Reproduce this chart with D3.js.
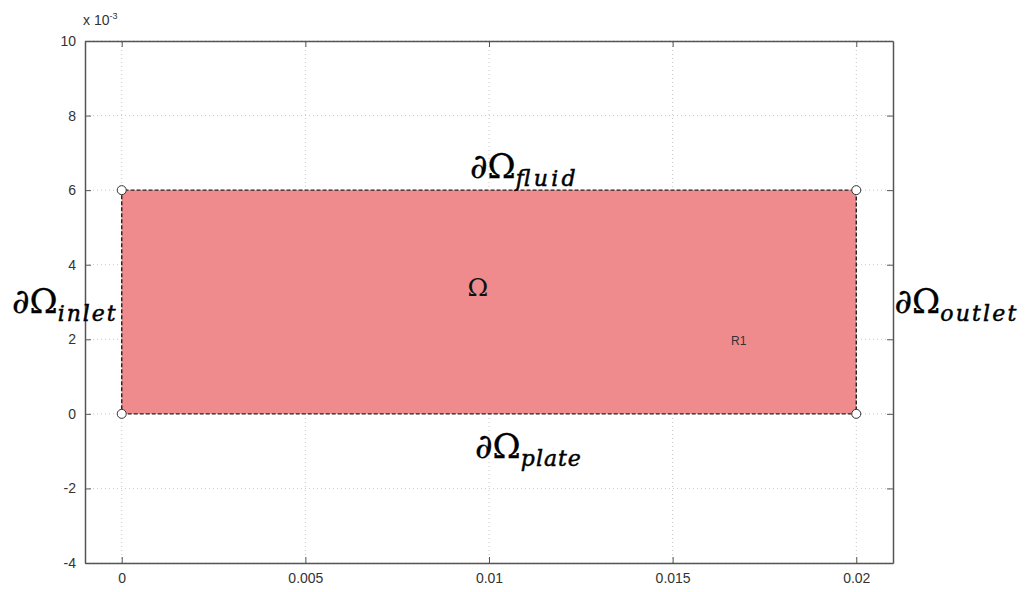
<!DOCTYPE html>
<html>
<head>
<meta charset="utf-8">
<script src="https://cdn.jsdelivr.net/npm/d3@7"></script>
<style>
  body { margin: 0; background: #fff; }
  text { font-family: "Liberation Sans", Arial, sans-serif; }
</style>
</head>
<body>
<div id="chart"></div>
<script>
// axis ticks (y values are in units of 1e-3)
const xTicks = [0, 0.005, 0.01, 0.015, 0.02];
const xTickLabels = ['0', '0.005', '0.01', '0.015', '0.02'];
const yTicks = [-4, -2, 0, 2, 4, 6, 8, 10];
const yTickLabels = ['-4', '-2', '0', '2', '4', '6', '8', '10'];
const xDomain = [-0.001, 0.021];
const yDomain = [-4, 10];

// the region R1 and its corner vertices
const regionX = [0, 0.02];
const regionY = [0, 6];
const corners = [[0, 0], [0.02, 0], [0.02, 6], [0, 6]];

// boundary labels: [x start, baseline y, main, subscript, subscript width px]
const boundaryLabels = [
  [0.00948, 6.33, '\u2202\u03A9', 'fluid', 60],
  [0.00962, -1.18, '\u2202\u03A9', 'plate', 60],
  [-0.00299, 2.71, '\u2202\u03A9', 'inlet', 58],
  [0.02104, 2.71, '\u2202\u03A9', 'outlet', 76]
];
const regionLabel = ['\u03A9', 0.0097, 3.15];
const regionName = ['R1', 0.0168, 1.85];

const W = 1026, H = 592;
const svg = d3.select('#chart').append('svg').attr('width', W).attr('height', H);

const x = d3.scaleLinear().domain(xDomain).range([85, 893]);
const y = d3.scaleLinear().domain(yDomain).range([563, 41]);

// grid
const grid = svg.append('g');
grid.selectAll('.gx').data(xTicks).enter().append('line')
  .attr('x1', d => x(d)).attr('x2', d => x(d))
  .attr('y1', y(yDomain[0])).attr('y2', y(yDomain[1]))
  .attr('stroke', '#c8c8c8').attr('stroke-dasharray', '1,3');
grid.selectAll('.gy').data(yTicks).enter().append('line')
  .attr('y1', d => y(d)).attr('y2', d => y(d))
  .attr('x1', x(xDomain[0])).attr('x2', x(xDomain[1]))
  .attr('stroke', '#c8c8c8').attr('stroke-dasharray', '1,3');

// region
svg.append('rect')
  .attr('x', x(regionX[0])).attr('y', y(regionY[1]))
  .attr('width', x(regionX[1]) - x(regionX[0]))
  .attr('height', y(regionY[0]) - y(regionY[1]))
  .attr('fill', '#f08b8d');
svg.append('path')
  .attr('d', d3.line().x(d => x(d[0])).y(d => y(d[1])).curve(d3.curveLinearClosed)(corners))
  .attr('fill', 'none').attr('stroke', '#222').attr('stroke-width', 1.4)
  .attr('stroke-dasharray', '4,2');
svg.selectAll('.corner').data(corners).enter().append('circle')
  .attr('cx', d => x(d[0])).attr('cy', d => y(d[1])).attr('r', 4.5)
  .attr('fill', '#fff').attr('stroke', '#333').attr('stroke-width', 1);

// axes (MATLAB style box with inward ticks)
const axB = svg.append('g').attr('transform', `translate(0,${y(yDomain[0])})`)
  .call(d3.axisBottom(x).tickValues(xTicks).tickFormat((d, i) => xTickLabels[i]).tickSizeInner(-6).tickSizeOuter(0).tickPadding(10));
const axT = svg.append('g').attr('transform', `translate(0,${y(yDomain[1])})`)
  .call(d3.axisTop(x).tickValues(xTicks).tickFormat('').tickSizeInner(-6).tickSizeOuter(0));
const axL = svg.append('g').attr('transform', `translate(${x(xDomain[0])},0)`)
  .call(d3.axisLeft(y).tickValues(yTicks).tickFormat((d, i) => yTickLabels[i]).tickSizeInner(-6).tickSizeOuter(0).tickPadding(9));
const axR = svg.append('g').attr('transform', `translate(${x(xDomain[1])},0)`)
  .call(d3.axisRight(y).tickValues(yTicks).tickFormat('').tickSizeInner(-6).tickSizeOuter(0));
[axB, axT, axL, axR].forEach(a => {
  a.select('.domain').attr('stroke', '#555').attr('stroke-width', 1.5);
  a.selectAll('.tick line').attr('stroke', '#555');
  a.selectAll('.tick text').attr('fill', '#333').attr('font-size', 14);
});

// exponent label
const ex = svg.append('text').attr('x', 83).attr('y', 25).attr('fill', '#333').attr('font-size', 14);
ex.append('tspan').text('x 10');
ex.append('tspan').attr('dy', -6).attr('font-size', 9).text('-3');

// region labels
svg.append('text').attr('x', x(regionLabel[1])).attr('y', y(regionLabel[2]))
  .attr('text-anchor', 'middle').attr('font-size', 25).attr('fill', '#111')
  .style('font-family', '"DejaVu Serif", serif').text(regionLabel[0]);
svg.append('text').attr('x', x(regionName[1])).attr('y', y(regionName[2]))
  .attr('text-anchor', 'middle').attr('font-size', 12).attr('fill', '#333').text(regionName[0]);

boundaryLabels.forEach(b => {
  const t = svg.append('text').attr('x', x(b[0])).attr('y', y(b[1]))
    .attr('fill', '#000')
    .style('font-family', '"DejaVu Serif", serif');
  t.append('tspan').attr('font-size', 34).attr('stroke', '#000').attr('stroke-width', 0.3).text(b[2]);
  t.append('tspan').attr('font-size', 22).attr('dy', 8).attr('font-style', 'italic')
    .attr('stroke', '#000').attr('stroke-width', 0.5)
    .attr('textLength', b[4]).attr('lengthAdjust', 'spacing').text(b[3]);
});
</script>
</body>
</html>
